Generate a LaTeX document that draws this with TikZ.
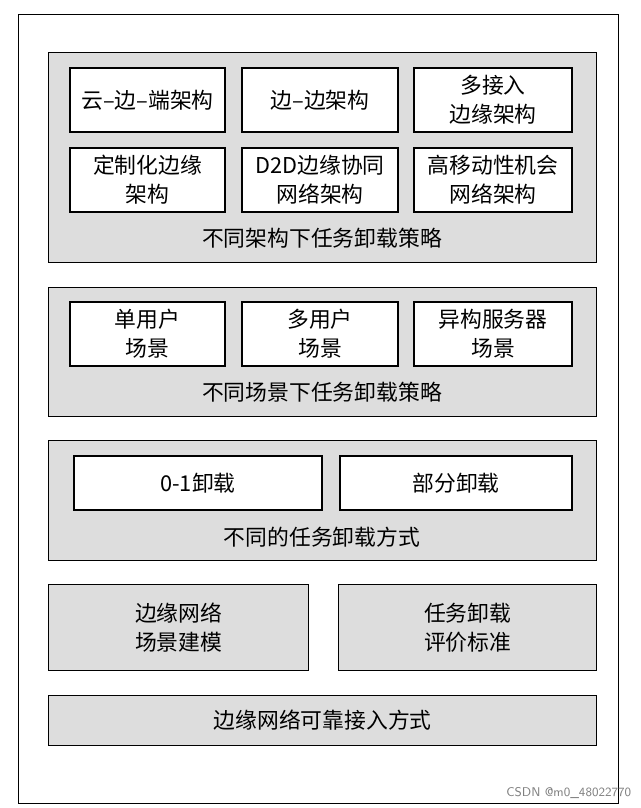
\documentclass[tikz,border=0pt]{standalone}
\usepackage{fontspec}
\usepackage{tikz}
\usepackage{xcolor}
\setmainfont{Liberation Serif}
\newfontfamily\cjk{Noto Sans CJK SC}
\definecolor{panelgray}{RGB}{221,221,221}

\begin{document}
\begin{tikzpicture}[
    x=0.025cm, y=-0.025cm,
    panel/.style={rectangle, draw=black, thick, fill=panelgray, anchor=north west, inner sep=0pt},
    itembox/.style={rectangle, draw=black, thick, fill=white, minimum height=1.6cm, align=center, font=\cjk\fontsize{15.5}{20.5}\selectfont, inner sep=0pt},
    caption/.style={font=\cjk\fontsize{15.5}{20.5}\selectfont, align=center}
]
\useasboundingbox (0,0) rectangle (640,808);
\node[rectangle, draw=black, thick, minimum width=15cm, minimum height=19.725cm, anchor=north west, inner sep=0pt] (frame) at (18,14) {};

% ========== 不同架构 ==========
\node[panel, minimum width=13.7cm, minimum height=5.25cm] (arch) at (48,52) {};
\node[itembox, minimum width=3.875cm] (a1) at (147.5,100) {云–边–端架构};
\node[itembox, minimum width=3.9cm] (a2) at (320,100) {边–边架构};
\node[itembox, minimum width=3.95cm] (a3) at (493,100) {多接入\\边缘架构};
\node[itembox, minimum width=3.875cm] (a4) at (147.5,180) {定制化边缘\\架构};
\node[itembox, minimum width=3.9cm] (a5) at (320,180) {D2D{\cjk 边缘协同}\\网络架构};
\node[itembox, minimum width=3.95cm] (a6) at (493,180) {高移动性机会\\网络架构};
\node[caption] (archlabel) at (322,238) {不同架构下任务卸载策略};

% ========== 不同场景 ==========
\node[panel, minimum width=13.7cm, minimum height=3.225cm] (scene) at (48,287) {};
\node[itembox, minimum width=3.875cm] (s1) at (147.5,334) {单用户\\场景};
\node[itembox, minimum width=3.9cm] (s2) at (320,334) {多用户\\场景};
\node[itembox, minimum width=3.95cm] (s3) at (493,334) {异构服务器\\场景};
\node[caption] (scenelabel) at (322,392) {不同场景下任务卸载策略};

% ========== 卸载方式 ==========
\node[panel, minimum width=13.7cm, minimum height=3cm] (mode) at (48,440) {};
\node[itembox, minimum width=6.2cm, minimum height=1.35cm] (m1) at (198,483) {0-1{\cjk 卸载}};
\node[itembox, minimum width=5.8cm, minimum height=1.35cm] (m2) at (456,483) {部分卸载};
\node[caption] (modelabel) at (322,537) {不同的任务卸载方式};

% ========== 建模与标准 ==========
\node[panel, minimum width=6.5cm, minimum height=2.15cm, align=center, font=\cjk\fontsize{15.5}{20.5}\selectfont] (model) at (48,584) {边缘网络\\场景建模};
\node[panel, minimum width=6.45cm, minimum height=2.15cm, align=center, font=\cjk\fontsize{15.5}{20.5}\selectfont] (eval) at (338,584) {任务卸载\\评价标准};

% ========== 可靠接入 ==========
\node[panel, minimum width=13.7cm, minimum height=1.25cm, font=\cjk\fontsize{15.5}{20.5}\selectfont] (access) at (48,695) {边缘网络可靠接入方式};

\node[font=\sffamily\fontsize{9}{10}\selectfont, text=gray, anchor=south east] (mark) at (636,804) {CSDN @m0\_48022770};
\end{tikzpicture}
\end{document}
